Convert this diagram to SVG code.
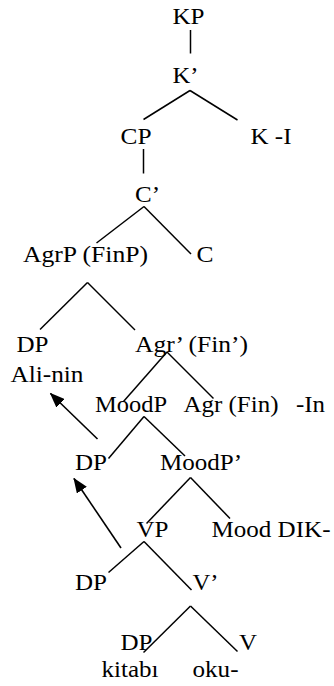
<svg xmlns="http://www.w3.org/2000/svg" width="334" height="686" viewBox="0 0 334 686">
<style>
text{font-family:"Liberation Serif","DejaVu Serif",serif;font-size:23px;fill:#000}
.e{stroke:#000;stroke-width:1.5;fill:none}
.m{stroke:#000;stroke-width:1.6;fill:none}
</style>
<defs>
<marker id="ah" viewBox="0 0 15 12" refX="14" refY="6" markerWidth="15" markerHeight="12" markerUnits="userSpaceOnUse" orient="auto">
<path d="M0,0 L15,6 L0,12 z" fill="#000"/>
</marker>
</defs>
<rect width="334" height="686" fill="#fff"/>
<g id="connectors">
<line class="e" x1="190.5" y1="30" x2="190.5" y2="53.5"/>
<line class="e" x1="190" y1="90.5" x2="143.5" y2="119.5"/>
<line class="e" x1="190" y1="90.5" x2="237.5" y2="120"/>
<line class="e" x1="143.5" y1="149" x2="143.5" y2="173.5"/>
<line class="e" x1="144" y1="206.5" x2="96.5" y2="243"/>
<line class="e" x1="144" y1="206.5" x2="191" y2="254"/>
<line class="e" x1="87.5" y1="282.5" x2="40" y2="329.5"/>
<line class="e" x1="87.5" y1="282.5" x2="135" y2="330"/>
<line class="e" x1="167" y1="352" x2="123.5" y2="401.5"/>
<line class="e" x1="167" y1="352" x2="213.5" y2="398.5"/>
<line class="e" x1="144" y1="416.5" x2="108.5" y2="458.5"/>
<line class="e" x1="144" y1="416.5" x2="185" y2="456"/>
<line class="e" x1="190.5" y1="477.5" x2="146.5" y2="523.5"/>
<line class="e" x1="190.5" y1="477.5" x2="230" y2="518.5"/>
<line class="e" x1="144" y1="541.5" x2="108.5" y2="572.5"/>
<line class="e" x1="144" y1="541.5" x2="191.5" y2="590"/>
<line class="e" x1="190.5" y1="606" x2="143.5" y2="652.5"/>
<line class="e" x1="190.5" y1="606" x2="237.5" y2="651.5"/>
<line class="m" x1="97.5" y1="439" x2="50.5" y2="393.5" marker-end="url(#ah)"/>
<line class="m" x1="121" y1="548" x2="74" y2="478.5" marker-end="url(#ah)"/>
</g>
<g id="KP"><text x="172.5" y="23.5" textLength="32" lengthAdjust="spacingAndGlyphs">KP</text></g>
<g id="Kbar"><text x="172.5" y="83" textLength="26" lengthAdjust="spacingAndGlyphs">K’</text></g>
<g id="CP"><text x="120.5" y="143.5" textLength="31" lengthAdjust="spacingAndGlyphs">CP</text></g>
<g id="K-I"><text x="250.5" y="143.5" textLength="41" lengthAdjust="spacingAndGlyphs">K -I</text></g>
<g id="Cbar"><text x="135" y="202" textLength="25" lengthAdjust="spacingAndGlyphs">C’</text></g>
<g id="AgrP"><text x="23" y="262" textLength="125" lengthAdjust="spacingAndGlyphs">AgrP (FinP)</text></g>
<g id="C"><text x="196.5" y="262" textLength="17" lengthAdjust="spacingAndGlyphs">C</text></g>
<g id="DP1"><text x="16.5" y="351.5" textLength="32" lengthAdjust="spacingAndGlyphs">DP</text><text x="10.5" y="381.5" textLength="73" lengthAdjust="spacingAndGlyphs">Ali-nin</text></g>
<g id="Agrbar"><text x="135" y="351.5" textLength="113" lengthAdjust="spacingAndGlyphs">Agr’ (Fin’)</text></g>
<g id="MoodP"><text x="95" y="411.5" textLength="72" lengthAdjust="spacingAndGlyphs">MoodP</text></g>
<g id="Agr"><text x="183.5" y="411.5" textLength="95" lengthAdjust="spacingAndGlyphs">Agr (Fin)</text><text x="296" y="411.5" textLength="29" lengthAdjust="spacingAndGlyphs">-In</text></g>
<g id="DP2"><text x="75" y="470" textLength="32" lengthAdjust="spacingAndGlyphs">DP</text></g>
<g id="MoodPbar"><text x="160" y="470" textLength="82" lengthAdjust="spacingAndGlyphs">MoodP’</text></g>
<g id="VP"><text x="136.5" y="536.5" textLength="32" lengthAdjust="spacingAndGlyphs">VP</text></g>
<g id="Mood"><text x="211.5" y="536.5" textLength="119" lengthAdjust="spacingAndGlyphs">Mood DIK-</text></g>
<g id="DP3"><text x="75" y="590" textLength="32" lengthAdjust="spacingAndGlyphs">DP</text></g>
<g id="Vbar"><text x="192.5" y="590" textLength="26" lengthAdjust="spacingAndGlyphs">V’</text></g>
<g id="DP4"><text x="120.5" y="649.5" textLength="32" lengthAdjust="spacingAndGlyphs">DP</text><text x="101.5" y="676.5" textLength="57" lengthAdjust="spacingAndGlyphs">kitabı</text></g>
<g id="V"><text x="239" y="649.5" textLength="18" lengthAdjust="spacingAndGlyphs">V</text><text x="192.5" y="676.5" textLength="46" lengthAdjust="spacingAndGlyphs">oku-</text></g>
</svg>
